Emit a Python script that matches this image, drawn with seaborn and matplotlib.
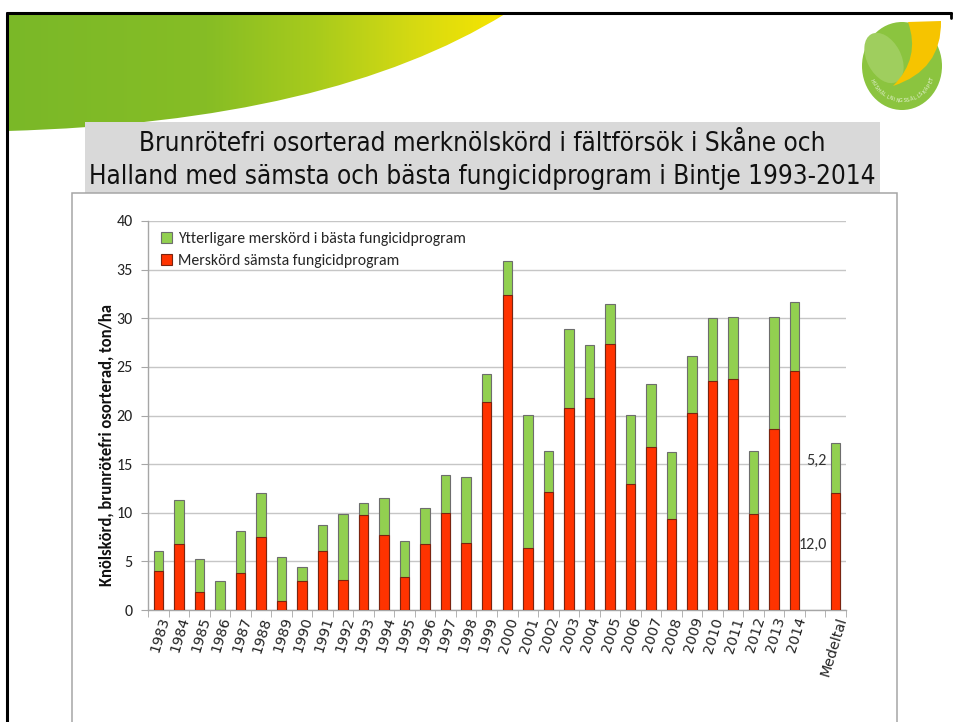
import numpy as np
import pandas as pd
import matplotlib
matplotlib.use("Agg")
import matplotlib.pyplot as plt
import seaborn as sns
from matplotlib import font_manager
from matplotlib.patches import Rectangle, Ellipse, PathPatch, Patch
from matplotlib.path import Path
from matplotlib.colors import LinearSegmentedColormap

# ---------------- data ----------------
years = [str(y) for y in range(1983, 2015)]
red_vals = [4.0, 6.8, 1.9, 0.0, 3.8, 7.5, 0.9, 3.0, 6.1, 3.1, 9.8, 7.7, 3.4, 6.8, 10.0, 6.9,
            21.4, 32.4, 6.4, 12.1, 20.8, 21.8, 27.4, 13.0, 16.8, 9.4, 20.3, 23.5, 23.8, 9.9, 18.6, 24.6]
green_vals = [2.1, 4.5, 3.3, 3.0, 4.3, 4.5, 4.6, 1.4, 2.6, 6.8, 1.2, 3.8, 3.7, 3.7, 3.9, 6.8,
              2.9, 3.5, 13.7, 4.3, 8.1, 5.4, 4.1, 7.1, 6.4, 6.8, 5.8, 6.5, 6.3, 6.5, 11.5, 7.1]
mean_label = "Medeltal"
mean_red = 12.0
mean_green = 5.2
categories = years + [" ", mean_label]
legend_labels = ["Ytterligare merskörd i bästa fungicidprogram", "Merskörd sämsta fungicidprogram"]
title_lines = ["Brunrötefri osorterad merknölskörd i fältförsök i Skåne och",
               "Halland med sämsta och bästa fungicidprogram i Bintje 1993-2014"]
ylabel = "Knölskörd, brunrötefri osorterad, ton/ha"
yticks = [0, 5, 10, 15, 20, 25, 30, 35, 40]
logo_text = "HUSHÅLLNINGSSÄLLSKAPET"

df = pd.DataFrame({
    "cat": years + [mean_label],
    "red": red_vals + [mean_red],
    "green": green_vals + [mean_green],
})
df["total"] = df["red"] + df["green"]

# ---------------- style ----------------
sns.set_style("white")


def pick(names):
    for n in names:
        try:
            font_manager.findfont(font_manager.FontProperties(family=n), fallback_to_default=False)
            return n
        except Exception:
            pass
    return "DejaVu Sans"


def pick_condensed():
    for fam in ["Liberation Sans Narrow", "Noto Sans", "DejaVu Sans", "Open Sans", "Roboto"]:
        try:
            fp = font_manager.FontProperties(family=fam, stretch="condensed")
            path = font_manager.findfont(fp, fallback_to_default=False)
            low = path.lower()
            if "condensed" in low or "narrow" in low:
                return {"family": [fam, "DejaVu Sans"], "fontstretch": "condensed"}
        except Exception:
            pass
    return {"family": [pick(["Liberation Sans", "Roboto"]), "DejaVu Sans"]}


chart_font = pick(["Carlito", "Lato", "Open Sans", "DejaVu Sans"])
title_kw = pick_condensed()
plt.rcParams["font.family"] = [chart_font, "DejaVu Sans"]

RED = "#FF3300"
GREEN = "#92D050"

W, H = 955, 722
fig = plt.figure(figsize=(W / 100, H / 100), dpi=100)
fig.patch.set_facecolor("white")

# ---------------- slide background ----------------
bg = fig.add_axes([0, 0, 1, 1], zorder=0)
bg.set_xlim(0, W)
bg.set_ylim(H, 0)
bg.axis("off")

# swoosh
verts = [(7, 14), (505, 14), (330, 122), (7, 131), (7, 14)]
codes = [Path.MOVETO, Path.LINETO, Path.CURVE3, Path.CURVE3, Path.CLOSEPOLY]
sw_path = Path(verts, codes)
sw_patch = PathPatch(sw_path, facecolor="none", edgecolor="none")
bg.add_patch(sw_patch)
cmap = LinearSegmentedColormap.from_list(
    "sw", [(0, "#7ab828"), (0.4, "#86bd25"), (0.62, "#a8cb1c"), (0.82, "#d6da12"), (1, "#f8e500")])
grad = np.linspace(0, 1, 256).reshape(1, -1)
im = bg.imshow(grad, cmap=cmap, extent=[7, 505, 131, 14], aspect="auto", zorder=1)
im.set_clip_path(sw_patch)

# slide frame
bg.plot([7, 951], [13, 13], color="black", lw=2.2, zorder=3)
bg.plot([7, 7], [13, H], color="black", lw=2.2, zorder=3)
bg.plot([951, 951], [13, 18], color="black", lw=2.0, zorder=3)

# logo
bg.add_patch(Ellipse((902, 66), 80, 88, facecolor="#8bc43f", edgecolor="none", zorder=2))
bg.add_patch(Ellipse((884, 58), 34, 54, angle=-28, facecolor="#9fce5e", edgecolor="none", zorder=2))
leaf = Path([(908, 22), (941, 21), (942, 70), (893, 86), (921, 58), (908, 22), (908, 22)],
            [Path.MOVETO, Path.LINETO, Path.CURVE3, Path.CURVE3, Path.CURVE3, Path.CURVE3, Path.CLOSEPOLY])
bg.add_patch(PathPatch(leaf, facecolor="#f6c400", edgecolor="none", zorder=3))
cx, cy, r = 902, 66, 33
angs = np.linspace(np.deg2rad(155), np.deg2rad(22), len(logo_text))
for ch, th in zip(logo_text, angs):
    bg.text(cx + r * np.cos(th), cy + r * 1.05 * np.sin(th), ch, fontsize=3.4,
            rotation=90 - np.rad2deg(th), ha="center", va="center",
            color="#eef6e2", zorder=4, family=["DejaVu Sans"])

# title box
bg.add_patch(Rectangle((85, 122), 795, 72, facecolor="#d9d9d9", edgecolor="none", zorder=2))
renderer = fig.canvas.get_renderer()
title_texts = []
for i, line in enumerate(title_lines):
    t = bg.text(482, 144 + i * 33, line, ha="center", va="center", fontsize=18,
                color="#111111", zorder=4, **title_kw)
    title_texts.append(t)
w2 = title_texts[1].get_window_extent(renderer).width
scale = 786.0 / w2
for t in title_texts:
    t.set_fontsize(18 * scale)

# chart box
bg.add_patch(Rectangle((72, 193), 825, 560, facecolor="white", edgecolor="#a6a6a6", lw=1.1, zorder=2))

# ---------------- chart ----------------
ax = fig.add_axes([148 / W, 112 / H, 698 / W, 389 / H], zorder=2)
ax.patch.set_alpha(0)

bw = 0.46
sns.barplot(data=df, x="cat", y="total", order=categories, color=GREEN, saturation=1,
            width=bw, edgecolor="#6d6d6d", linewidth=0.8, ax=ax, zorder=3)
sns.barplot(data=df, x="cat", y="red", order=categories, color=RED, saturation=1,
            width=bw, edgecolor="#7a2410", linewidth=0.8, ax=ax, zorder=4)

ax.set_xlim(-0.5, len(categories) - 0.5)
ax.set_ylim(0, 40)
ax.set_yticks(yticks)
ax.yaxis.grid(True, color="#c6c6c6", lw=1.0, zorder=0)
ax.xaxis.grid(False)
ax.set_axisbelow(True)
for s in ["top", "right"]:
    ax.spines[s].set_visible(False)
for s in ["left", "bottom"]:
    ax.spines[s].set_color("#a6a6a6")
    ax.spines[s].set_linewidth(1.0)

ax.tick_params(axis="y", which="major", length=5, color="#a6a6a6", labelsize=11.5,
               labelcolor="#222222", pad=6, direction="out", left=True)
ax.tick_params(axis="x", which="major", length=0, labelsize=10.3, labelcolor="#222222", pad=4)
ax.set_xticks(np.arange(-0.5, len(categories), 1.0), minor=True)
ax.tick_params(axis="x", which="minor", length=5, color="#a6a6a6", direction="out", bottom=True)
for lab in ax.get_xticklabels():
    lab.set_rotation(73)
    lab.set_ha("right")
    lab.set_rotation_mode("anchor")
    lab.set_family(["DejaVu Sans"])

ax.set_xlabel("")
ax.set_ylabel(ylabel, fontsize=12, fontweight="bold", color="#111111")
ax.yaxis.set_label_coords(-34 / 698, (610 - 445) / 389)

# data labels for the mean bar
mi = categories.index(mean_label)
ax.annotate(f"{mean_green:.1f}".replace(".", ","), xy=(mi - bw / 2, mean_red + mean_green / 2),
            xytext=(-3, 5), textcoords="offset points", ha="right", va="center",
            fontsize=11.5, color="#333333")
ax.annotate(f"{mean_red:.1f}".replace(".", ","), xy=(mi - bw / 2, mean_red / 2),
            xytext=(-3, 5), textcoords="offset points", ha="right", va="center",
            fontsize=11.5, color="#333333")

handles = [Patch(facecolor=GREEN, edgecolor="#6d6d6d", lw=0.8),
           Patch(facecolor=RED, edgecolor="#7a2410", lw=0.8)]
ax.legend(handles, legend_labels, loc="upper left", bbox_to_anchor=(0.005, 0.995), frameon=False,
          fontsize=11.3, handlelength=0.7, handleheight=0.7, handletextpad=0.4,
          labelspacing=0.5, borderaxespad=0.2)

fig.savefig("out.png", dpi=100, facecolor="white")
